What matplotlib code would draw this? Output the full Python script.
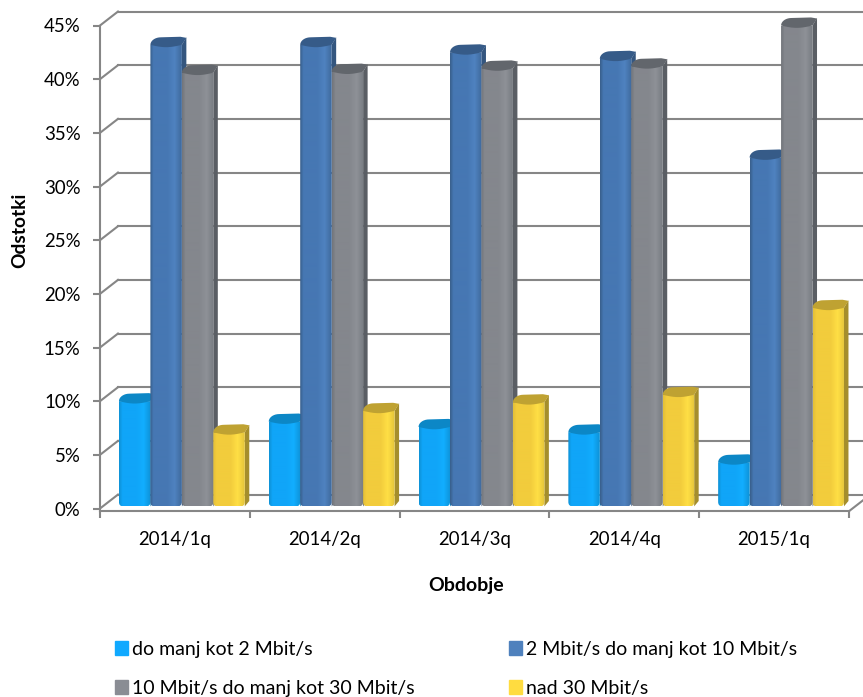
import numpy as np
import matplotlib
matplotlib.use("Agg")
import matplotlib.pyplot as plt
from matplotlib.path import Path
from matplotlib.patches import Patch, Polygon

plt.rcParams['font.family'] = ['Lato', 'DejaVu Sans']

categories = ["2014/1q", "2014/2q", "2014/3q", "2014/4q", "2015/1q"]
series_names = ["do manj kot 2 Mbit/s", "2 Mbit/s do manj kot 10 Mbit/s",
                "10 Mbit/s do manj kot 30 Mbit/s", "nad 30 Mbit/s"]
low = [9.8, 7.9, 7.4, 6.9, 4.1]
mid = [43.0, 43.0, 42.3, 41.7, 32.5]
high = [40.4, 40.5, 40.8, 41.0, 44.8]
fast = [6.9, 8.9, 9.7, 10.4, 18.5]
y_ticks = [0, 5, 10, 15, 20, 25, 30, 35, 40, 45]

# left edge, body, light band, right edge, side, top
styles = [
    ("#0E93D8", "#10A5F8", "#12AEFF", "#0E93D8", "#0A7FBC", "#0C87C6"),
    ("#3A618F", "#4677B3", "#4F82C0", "#3F6A9E", "#34567F", "#365B88"),
    ("#73767C", "#84878D", "#8E9197", "#787C82", "#5A5E64", "#62666C"),
    ("#E4C038", "#F2CC3C", "#FFDF45", "#E5C53A", "#A58E2C", "#BFA232"),
]
legend_colors = ["#10A9FF", "#4F81BD", "#8A8D94", "#FFDC40"]

grid_col = "#868686"
depth_x = 0.12
depth_y = 1.3
bar_w = 0.21
bar_start = 0.1265
base = 0.2
lift = 0.7
side = 0.03

fig = plt.figure(figsize=(8.63, 6.97), dpi=100)
ax = fig.add_axes([100 / 863, (697 - 511.2) / 697, 749 / 863, 485.7 / 697])


def draw_bar(x0, val, style):
    x1 = x0 + bar_w
    top = val + base
    stops = [0, 0.1, 0.55, 0.78, 1]
    cols = [matplotlib.colors.to_rgb(col) for col in style[:4]]
    cols = [cols[0], cols[1], cols[1], cols[2], cols[3]]
    t = np.linspace(0, 1, 32)
    grad = np.array([[np.interp(u, stops, [col[k] for col in cols]) for k in range(3)] for u in t])

    ax.add_patch(Polygon([(x1, base), (x1 + side, base + 0.5), (x1 + side, top + lift),
                          (x1, top)], fc=style[4], ec="none", clip_on=False, zorder=3))
    im = ax.imshow(grad[np.newaxis, :, :], extent=[x0, x1, base, top], aspect="auto",
                   interpolation="bilinear", zorder=3)
    r = 0.03
    clip = Path([(x0, top), (x0, base + 0.4), (x0, base), (x0 + r, base), (x1 - r, base),
                 (x1, base), (x1, base + 0.4), (x1, top), (x0, top)],
                [Path.MOVETO, Path.LINETO, Path.CURVE3, Path.CURVE3, Path.LINETO,
                 Path.CURVE3, Path.CURVE3, Path.LINETO, Path.CLOSEPOLY])
    im.set_clip_path(clip, ax.transData)

    # top face, its front edge sags a little
    a = np.linspace(np.pi, np.pi / 2, 10)
    arc = [(x0 + 0.07 + 0.07 * np.cos(v), top + lift * np.sin(v)) for v in a]
    sag = [(x0 + u * bar_w, top - 0.22 * np.sin(np.pi * u)) for u in np.linspace(1, 0, 10)]
    ax.add_patch(Polygon(arc + [(x1 - 0.01, top + lift + 0.05), (x1 + side, top + lift - 0.05)] + sag,
                         fc=style[5], ec="none", clip_on=False, zorder=3))


# back wall and side wall grid
n = len(categories)
for v in y_ticks:
    ax.plot([depth_x, n + depth_x], [v + depth_y, v + depth_y], color=grid_col, lw=1.5, clip_on=False, zorder=1)
    ax.plot([0, depth_x], [v, v + depth_y], color=grid_col, lw=1.5, clip_on=False, zorder=1)
ax.plot([n, n + depth_x], [-0.25, -0.25 + depth_y], color=grid_col, lw=1.5, clip_on=False, zorder=1)

for s, vals in enumerate([low, mid, high, fast]):
    for i, val in enumerate(vals):
        draw_bar(i + bar_start + s * bar_w, val, styles[s])

ax.set_xlim(0, n)
ax.set_ylim(-0.25, 45)
ax.patch.set_visible(False)
for name in ["top", "right"]:
    ax.spines[name].set_visible(False)
for name in ["left", "bottom"]:
    ax.spines[name].set_color(grid_col)
    ax.spines[name].set_linewidth(1.5)

ax.set_yticks(y_ticks)
ax.set_yticklabels([f"{v}%" for v in y_ticks], fontsize=13.4)
ax.tick_params(axis="y", length=5, width=1.5, color=grid_col, pad=9)
ax.set_xticks(range(n + 1))
ax.set_xticklabels([])
ax.set_xticks(np.arange(n) + 0.5, categories, minor=True, fontsize=13.4)
ax.tick_params(axis="x", which="major", length=5, width=1.5, color=grid_col)
ax.tick_params(axis="x", which="minor", length=0, pad=14)

fig.text(20 / 863, 1 - 230 / 697, "Odstotki", rotation=90, fontsize=13.8, fontweight="bold", ha="center", va="center")
fig.text(466 / 863, 1 - 585 / 697, "Obdobje", fontsize=14, fontweight="bold", ha="center", va="center")

handles = [Patch(color=legend_colors[k]) for k in [0, 2, 1, 3]]
labels = [series_names[k] for k in [0, 2, 1, 3]]
fig.legend(handles, labels, ncol=2, frameon=False, fontsize=14, loc="upper left",
           bbox_to_anchor=(115 / 863, 1 - 641 / 697), handlelength=0.67, handleheight=0.72,
           handletextpad=0.2, columnspacing=4.86, labelspacing=1.12, borderpad=0, borderaxespad=0)

fig.savefig("out.png", dpi=100)
